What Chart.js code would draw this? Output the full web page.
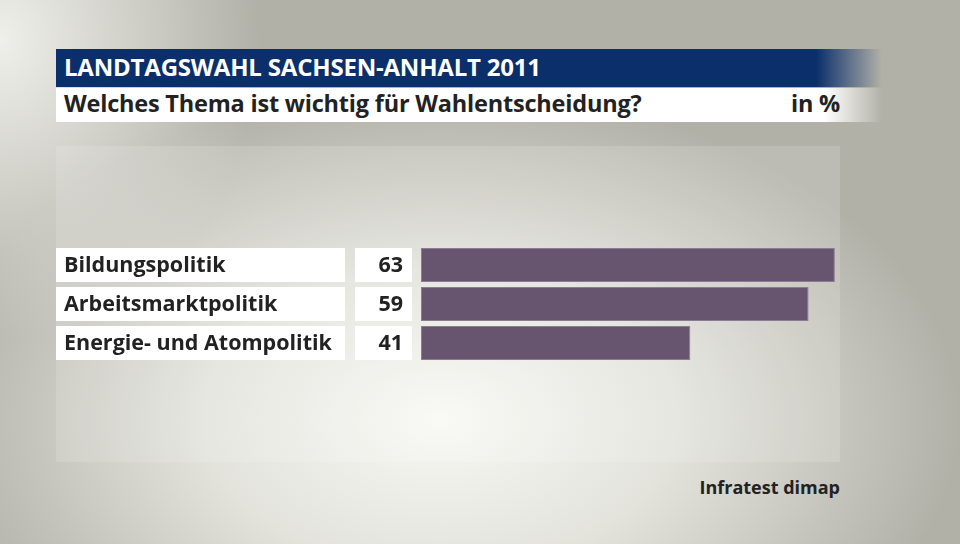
<!DOCTYPE html>
<html>
<head>
<meta charset="utf-8">
<script src="https://cdn.jsdelivr.net/npm/chart.js@4.4.1/dist/chart.umd.min.js"></script>
<style>
html, body { margin: 0; padding: 0; width: 960px; height: 544px; overflow: hidden; }
body {
    position: relative;
    font-family: "Open Sans", sans-serif;
    background:
        radial-gradient(ellipse 520px 330px at 440px 420px, rgba(248,248,244,1) 0%, rgba(236,236,230,0.85) 45%, rgba(200,199,191,0) 100%),
        radial-gradient(ellipse 260px 300px at 0px 40px, rgba(246,246,242,0.9) 0%, rgba(246,246,242,0) 100%),
        #b2b1a8;
}
#panel { position: absolute; left: 56px; top: 146px; width: 784px; height: 316px; background: rgba(255,255,255,0.14); }
#titleBar {
    position: absolute; left: 56px; top: 49px; width: 826px; height: 38px;
    background: linear-gradient(to right, #0a2f6b 0, #0a2f6b 92%, rgba(10,47,107,0) 100%);
}
#titleBar span { position: absolute; left: 8px; top: 1px; color: #fff; font-weight: 700; font-size: 24px; letter-spacing: -0.2px; }
#subBar {
    position: absolute; left: 56px; top: 88px; width: 826px; height: 34px;
    background: linear-gradient(to right, #fff 0, #fff 93%, rgba(255,255,255,0) 100%);
}
#subBar span { position: absolute; top: -1px; color: #222; font-weight: 700; font-size: 23.5px; letter-spacing: -0.2px; }
#source { position: absolute; right: 120px; top: 475px; color: #222; font-weight: 700; font-size: 18px; }
#chart { position: absolute; left: 0; top: 0; }
</style>
</head>
<body>
<div id="panel"></div>
<div id="titleBar"><span>LANDTAGSWAHL SACHSEN-ANHALT 2011</span></div>
<div id="subBar"><span style="left:8px">Welches Thema ist wichtig für Wahlentscheidung?</span><span style="right:42px">in %</span></div>
<div id="source">Infratest dimap</div>
<canvas id="chart" width="960" height="544"></canvas>
<script>
const categories = ["Bildungspolitik", "Arbeitsmarktpolitik", "Energie- und Atompolitik"];
const values = [63, 59, 41];

// white label and value boxes in front of each bar
const rowBoxes = {
    id: "rowBoxes",
    beforeDatasetsDraw(chart) {
        const ctx = chart.ctx;
        const meta = chart.getDatasetMeta(0);
        ctx.save();
        meta.data.forEach((bar, i) => {
            const h = 34;
            const top = bar.y - h / 2;
            ctx.fillStyle = "#ffffff";
            ctx.fillRect(56, top, 289, h);
            ctx.fillRect(355, top, 57, h);
            ctx.fillStyle = "#222222";
            ctx.font = "700 21.5px 'Open Sans'";
            ctx.textBaseline = "middle";
            ctx.textAlign = "left";
            ctx.fillText(categories[i], 64, bar.y + 1);
            ctx.textAlign = "right";
            ctx.fillText(String(values[i]), 403, bar.y + 1);
        });
        ctx.restore();
    }
};

new Chart(document.getElementById("chart").getContext("2d"), {
    type: "bar",
    data: {
        labels: categories,
        datasets: [{
            data: values,
            backgroundColor: "#67546f",
            borderColor: "#8c7c93",
            borderWidth: 1,
            borderSkipped: false,
            barPercentage: 34 / 39,
            categoryPercentage: 1
        }]
    },
    options: {
        indexAxis: "y",
        responsive: false,
        animation: false,
        layout: { padding: { left: 421, right: 112, top: 245.5, bottom: 181.5 } },
        plugins: { legend: { display: false }, tooltip: { enabled: false } },
        scales: {
            x: { display: false, min: 0, max: 65 },
            y: { display: false }
        }
    },
    plugins: [rowBoxes]
});
</script>
</body>
</html>
